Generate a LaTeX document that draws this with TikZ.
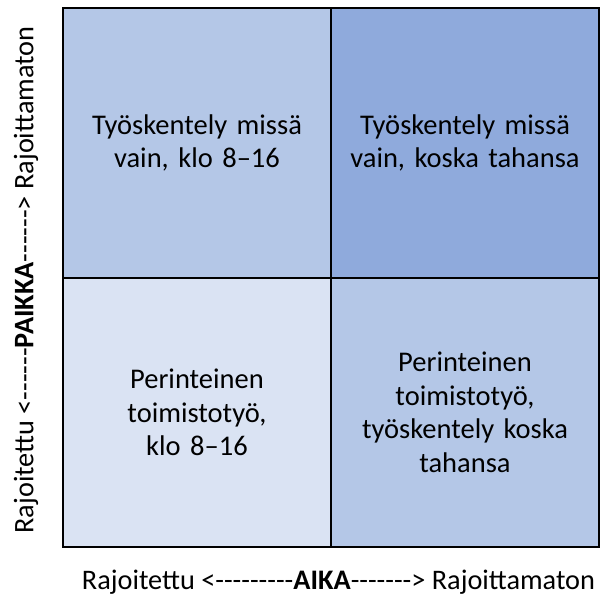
\documentclass[tikz,border=0pt]{standalone}
\usepackage{fontspec}
\setmainfont{Carlito}[Ligatures=TeXOff]
\usepackage{tikz}

\definecolor{lightcell}{HTML}{DAE3F3}
\definecolor{midcell}{HTML}{B4C7E7}
\definecolor{darkcell}{HTML}{8FAADC}

\tikzset{
  cell/.style={draw, line width=2pt, minimum width=268pt, minimum height=269.5pt,
    inner sep=0pt, align=center, text width=255pt,
    font=\fontsize{28.5}{33.5}\selectfont},
  axis/.style={font=\fontsize{28.3}{30}\selectfont, inner sep=0pt}
}

\begin{document}
\begin{tikzpicture}
		\useasboundingbox (0pt,0pt) rectangle (600pt,-598pt);
		\begin{scope}[x=1pt, y=-1pt]
			\node[cell, fill=midcell] (c-1-1) at (197,143) {Työskentely missä\\vain, klo 8–16};
			\node[cell, fill=darkcell] (c-1-2) at (465,143) {Työskentely missä\\vain, koska tahansa};
			\node[cell, fill=lightcell] (c-2-1) at (197,412.5) {Perinteinen\\toimistotyö,\\klo 8–16};
			\node[cell, fill=midcell] (c-2-2) at (465,412.5) {Perinteinen\\toimistotyö,\\työskentely koska\\tahansa};

			\node[axis] (aika) at (338.5,582) {Rajoitettu <---------\textbf{AIKA}-------> Rajoittamaton};
			\node[axis, rotate=90] (paikka) at (26,280) {Rajoitettu <------\textbf{PAIKKA}------> Rajoittamaton};
		\end{scope}
	\end{tikzpicture}
\end{document}
